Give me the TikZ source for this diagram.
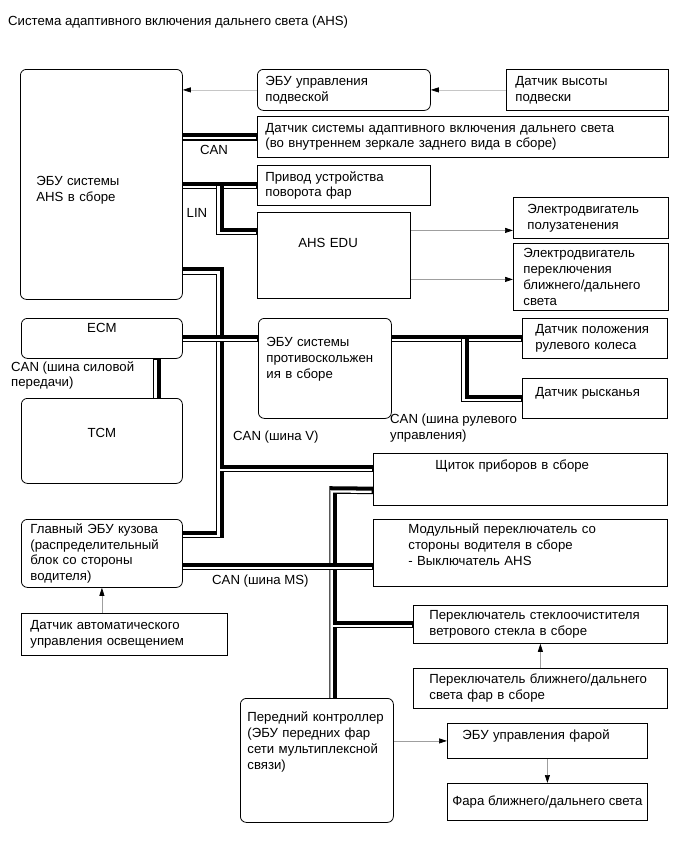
\documentclass[tikz,border=0pt]{standalone}
\usepackage{fontspec}
\setmainfont{Liberation Sans}
\usetikzlibrary{arrows.meta,positioning,calc,backgrounds}

\tikzset{
  box/.style={draw, fill=white, anchor=north west, align=left, line width=0.8pt},
  rbox/.style={box, rounded corners=6pt},
  sig/.style={draw=gray!75, line width=0.7pt, -{Triangle[length=8pt,width=5pt,color=black]}},
  bus/.style={line width=7.5pt, postaction={draw=white, line width=2.3pt, transform canvas={shift={(-1.4pt,-1.4pt)}}}},
  lbl/.style={inner sep=0pt, align=left}
}

\begin{document}
\begin{tikzpicture}[x=1pt, y=-1pt, every node/.style={font=\fontsize{13.2}{15.8}\selectfont}]
            \useasboundingbox (0,0) rectangle (686,857);

            % Title
            \node[lbl, anchor=west] (title) at (8,22) {Система адаптивного включения дальнего света (AHS)};

            % Upper group
            \node[rbox, minimum width=162, minimum height=230, text width=130, inner xsep=16, text height=22, text depth=19] (ahs) at (20,69) {ЭБУ системы\\AHS в сборе};
            \node[rbox, minimum width=173, minimum height=41, text width=157, inner xsep=8] (susp) at (257,69) {ЭБУ управления\\подвеской};
            \node[box, minimum width=162, minimum height=41, text width=144, inner xsep=9] (hsens) at (506,69) {Датчик высоты\\подвески};
            \node[box, minimum width=411, minimum height=41, text width=395, inner xsep=8] (beam) at (257,116) {Датчик системы адаптивного включения дальнего света\\(во внутреннем зеркале заднего вида в сборе)};
            \node[box, minimum width=173, minimum height=40, text width=157, inner xsep=8] (act) at (257,165) {Привод устройства\\поворота фар};
            \node[box, minimum width=153, minimum height=86, text width=71, inner xsep=41, text height=9, text depth=24.4] (edu) at (257,212) {AHS EDU};
            \node[box, minimum width=155, minimum height=41, text width=127, inner xsep=14] (motor1) at (513,197) {Электродвигатель\\полузатенения};
            \node[box, minimum width=155, minimum height=67, text width=135, inner xsep=10] (motor2) at (513,243) {Электродвигатель\\переключения\\ближнего/дальнего\\света};

            % Middle group
            \node[rbox, align=center, minimum width=161, minimum height=40, text height=9, text depth=20.4] (ecm) at (21,318) {ECM};
            \node[rbox, align=center, minimum width=161, minimum height=85, text height=9, text depth=15.4] (tcm) at (21,398) {TCM};
            \node[rbox, minimum width=133, minimum height=100, text width=117, inner xsep=8, text height=9, text depth=52.4] (abs) at (258,318) {ЭБУ системы\\противоскольжен\\ия в сборе};
            \node[box, minimum width=145, minimum height=40, text width=119, inner xsep=13] (wheel) at (522,318) {Датчик положения\\рулевого колеса};
            \node[box, minimum width=145, minimum height=40, text width=119, inner xsep=13, text height=9, text depth=12.4] (yaw) at (522,378) {Датчик рысканья};

            % Lower group
            \node[box, minimum width=294, minimum height=52, text width=170, inner xsep=62, text height=9, text depth=28.4] (cluster) at (373,453) {Щиток приборов в сборе};
            \node[box, minimum width=294, minimum height=67, text width=224, inner xsep=35, text height=9, text depth=47.4] (module) at (373,519) {Модульный переключатель со\\стороны водителя в сборе\\- Выключатель AHS};
            \node[box, minimum width=254, minimum height=38, text width=222, inner xsep=16] (wiper) at (413,605) {Переключатель стеклоочистителя\\ветрового стекла в сборе};
            \node[box, minimum width=254, minimum height=40, text width=222, inner xsep=16] (hlsw) at (413,668) {Переключатель ближнего/дальнего\\света фар в сборе};
            \node[rbox, minimum width=153, minimum height=124, text width=139, inner xsep=7, text height=9, text depth=86.4] (front) at (240,698) {Передний контроллер\\(ЭБУ передних фар\\сети мультиплексной\\связи)};
            \node[box, minimum width=200, minimum height=35, text width=170, inner xsep=15, text height=9, text depth=11.4] (hlecu) at (447,723) {ЭБУ управления фарой};
            \node[box, align=center, minimum width=200, minimum height=37, inner xsep=1] (lamp) at (447,783) {Фара ближнего/дальнего света};
            \node[rbox, minimum width=161, minimum height=68, text width=143, inner xsep=9] (body) at (21,519) {Главный ЭБУ кузова\\(распределительный\\блок со стороны\\водителя)};
            \node[box, minimum width=206, minimum height=42, text width=188, inner xsep=9] (autos) at (21,613) {Датчик автоматического\\управления освещением};

            % Bus labels
            \node[lbl] (lcan) at (214,150) {CAN};
            \node[lbl] (llin) at (197,213) {LIN};
            \node[lbl, anchor=north west] (lpt) at (11,361) {CAN (шина силовой\\передачи)};
            \node[lbl, anchor=west] (lv) at (233,437) {CAN (шина V)};
            \node[lbl, anchor=north west] (lst) at (390,414) {CAN (шина рулевого\\управления)};
            \node[lbl, anchor=west] (lms) at (212,581) {CAN (шина MS)};

            % Bus taps
            \coordinate (lin) at (220,185);
            \coordinate (vbus) at (220,271);
            \coordinate (ms) at (333,490);
            \coordinate (steer) at (465,338);

            % Buses
            \begin{scope}[on background layer]
                \draw[bus] (ahs.east |- beam) -- (beam.west);
                \draw[bus] (ahs.east |- act) -- (act.west);
                \draw[bus] (lin) |- ([yshift=24pt]edu.west);
                \draw[bus] (ahs.east |- vbus) -- (vbus) |- ([yshift=19pt]body.east);
                \draw[bus] (ecm.east) -- (ecm.east -| abs.west);
                \draw[bus] ([yshift=11pt]cluster.west -| vbus) -- ([yshift=11pt]cluster.west);
                \draw[bus] ([xshift=55pt]ecm.south) -- ([xshift=55pt]ecm.south |- tcm.north);
                \draw[bus] (wheel.west -| abs.east) -- (wheel.west);
                \draw[bus] (steer) |- (yaw.west);
                \draw[bus] ([yshift=-11pt]cluster.west) -- (ms) -- (ms |- front.north);
                \draw[bus] ([yshift=-13pt]body.east) -- ([yshift=-13pt]body.east -| module.west);
                \draw[bus] (wiper.west -| ms) -- (wiper.west);
            \end{scope}

            % Signal lines
            \draw[sig, draw=gray!45] (hsens.west) -- (susp.east);
            \draw[sig, draw=gray!45] (susp.west) -- (susp.west -| ahs.east);
            \draw[sig] ([yshift=25pt]edu.east) -- ([yshift=25pt]edu.east -| motor1.west);
            \draw[sig] ([yshift=-24pt]edu.east) -- ([yshift=-24pt]edu.east -| motor2.west);
            \draw[sig] (autos.north -| body.south) -- (body.south);
            \draw[sig] (hlsw.north) -- (wiper.south);
            \draw[sig] (hlecu.west -| front.east) -- (hlecu.west);
            \draw[sig] (hlecu.south) -- (lamp.north);
\end{tikzpicture}
\end{document}
